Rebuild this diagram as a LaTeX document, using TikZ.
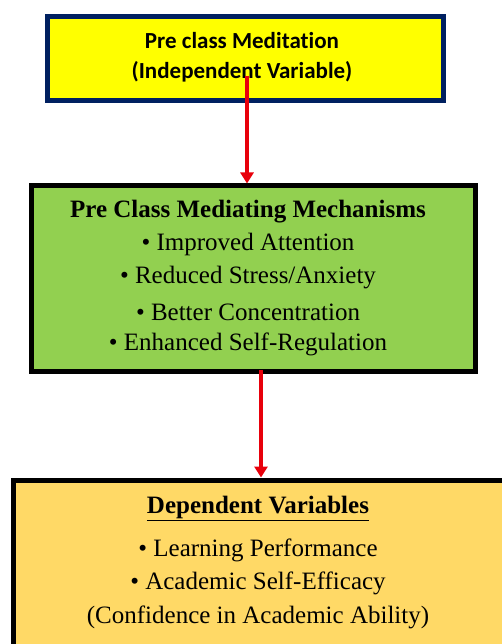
\documentclass[tikz,border=0pt]{standalone}
\usepackage{fontspec}
\setmainfont{Liberation Serif}
\newfontfamily\calib[Ligatures=NoCommon]{Carlito}
\usetikzlibrary{arrows.meta}
\definecolor{navyb}{HTML}{002060}
\definecolor{ylw}{HTML}{FFFF00}
\definecolor{grn}{HTML}{92D050}
\definecolor{org}{HTML}{FFD966}
\definecolor{redar}{HTML}{E8000B}
\tikzset{
  box/.style={draw, line width=5pt, inner sep=0pt, anchor=north west},
  conn/.style={draw=redar, line width=3.4pt, -{Triangle[length=11pt,width=13pt]}},
  txt/.style={font=\fontsize{25}{29}\selectfont, anchor=center, inner sep=0pt}
}
\begin{document}
\begin{tikzpicture}[x=1pt,y=-1pt]
\useasboundingbox (0,0) rectangle (502,644);
\clip (0,0) rectangle (502,644);
% box 1
\node[box, draw=navyb, fill=ylw, minimum width=396pt, minimum height=84pt] (b1) at (44.5,14.5) {};
\node[txt, font=\calib\bfseries\fontsize{23}{27}\selectfont] (t1a) at (242,41) {Pre class Meditation};
\node[txt, font=\calib\bfseries\fontsize{23}{27}\selectfont] (t1b) at (242,72) {(Independent Variable)};
% box 2
\node[box, fill=grn, minimum width=444pt, minimum height=185pt] (b2) at (28.5,183.5) {};
\node[txt, font=\bfseries\fontsize{25}{29}\selectfont] (t2) at (248,212) {Pre Class Mediating Mechanisms};
\node[txt] (m1) at (248,244) {• Improved Attention};
\node[txt] (m2) at (248,278) {• Reduced Stress/Anxiety};
\node[txt] (m3) at (248,312) {• Better Concentration};
\node[txt] (m4) at (248,344) {• Enhanced Self-Regulation};
% box 3
\node[box, fill=org, minimum width=494pt, minimum height=170pt] (b3) at (10.5,477.5) {};
\node[txt, font=\bfseries\fontsize{25}{29}\selectfont] (t3) at (258,508) {\underline{Dependent Variables}};
\node[txt] (d1) at (258,550) {• Learning Performance};
\node[txt] (d2) at (258,583) {• Academic Self-Efficacy};
\node[txt] (d3) at (258,617) {(Confidence in Academic Ability)};
% connectors
\coordinate (s1) at (247,76);
\draw[conn] (s1) -- (b2.north west -| s1);
\coordinate (s2) at (261,370);
\draw[conn] (s2) -- (b3.north west -| s2);
\end{tikzpicture}
\end{document}
